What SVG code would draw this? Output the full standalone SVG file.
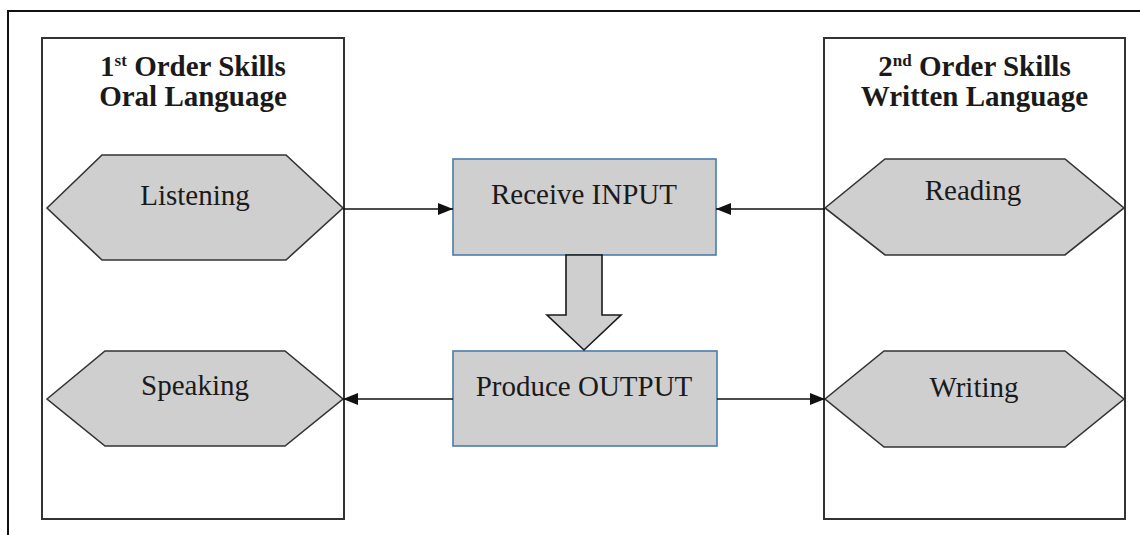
<svg xmlns="http://www.w3.org/2000/svg" width="1140" height="535" viewBox="0 0 1140 535">
  <style>
    .frame { fill: none; stroke: #111; stroke-width: 2; }
    .panel { fill: #fff; stroke: #333; stroke-width: 2; }
    .hex { fill: #d0cfd0; stroke: #333; stroke-width: 1.6; }
    .box { fill: #d0cfd0; stroke: #4a7bab; stroke-width: 1.6; }
    .block { fill: #d0cfd0; stroke: #1a1a1a; stroke-width: 1.6; }
    .link { fill: none; stroke: #111; stroke-width: 1.6; }
    .label { font-family: "Liberation Serif", "Times New Roman", serif; font-size: 29px; fill: #1a1a1a; text-anchor: middle; }
    .title { font-family: "Liberation Serif", "Times New Roman", serif; font-size: 29px; font-weight: bold; fill: #1a1a1a; text-anchor: middle; }
    .sup { font-size: 17px; }
  </style>
  <defs>
    <marker id="arrow" markerWidth="15" markerHeight="12" refX="15" refY="6" orient="auto" markerUnits="userSpaceOnUse">
      <path d="M0,0 L15,6 L0,12 Z" fill="#111"/>
    </marker>
  </defs>

  <rect width="1140" height="535" fill="#fff"/>
  <!-- outer page frame -->
  <polyline class="frame" points="8,535 8,11 1140,11"/>

  <!-- left panel: oral language -->
  <g id="panel-oral">
    <rect class="panel" x="42" y="38" width="302" height="481"/>
    <text class="title" x="193" y="76">1<tspan class="sup" dy="-10">st</tspan><tspan dy="10"> Order Skills</tspan></text>
    <text class="title" x="193" y="106">Oral Language</text>
  </g>

  <!-- right panel: written language -->
  <g id="panel-written">
    <rect class="panel" x="824" y="38" width="301" height="481"/>
    <text class="title" x="974.5" y="76">2<tspan class="sup" dy="-10">nd</tspan><tspan dy="10"> Order Skills</tspan></text>
    <text class="title" x="974.5" y="106">Written Language</text>
  </g>

  <g id="node-listening">
    <polygon class="hex" points="47,208 102,155 286,155 343,208 286,260 102,260"/>
    <text class="label" x="195" y="205">Listening</text>
  </g>

  <g id="node-speaking">
    <polygon class="hex" points="47,399 105,351 285,351 343,399 285,446 105,446"/>
    <text class="label" x="195" y="395">Speaking</text>
  </g>

  <g id="node-reading">
    <polygon class="hex" points="825,208 885,159 1065,159 1124,208 1065,255 885,255"/>
    <text class="label" x="973" y="200">Reading</text>
  </g>

  <g id="node-writing">
    <polygon class="hex" points="825,399 884,351 1065,351 1124,399 1065,447 884,447"/>
    <text class="label" x="974" y="397">Writing</text>
  </g>

  <g id="node-input">
    <rect class="box" x="453" y="159" width="263" height="96"/>
    <text class="label" x="584" y="204">Receive INPUT</text>
  </g>

  <g id="node-output">
    <rect class="box" x="453" y="351" width="264" height="95"/>
    <text class="label" x="584" y="396">Produce OUTPUT</text>
  </g>

  <!-- connectors -->
  <g id="connectors">
    <line class="link" x1="343" y1="209" x2="453" y2="209" marker-end="url(#arrow)"/>
    <line class="link" x1="825" y1="209" x2="716" y2="209" marker-end="url(#arrow)"/>
    <line class="link" x1="453" y1="399" x2="343" y2="399" marker-end="url(#arrow)"/>
    <line class="link" x1="717" y1="399" x2="825" y2="399" marker-end="url(#arrow)"/>
    <polygon class="block" points="566,255 602,255 602,315 621,315 584,350 547,315 566,315"/>
  </g>
</svg>
